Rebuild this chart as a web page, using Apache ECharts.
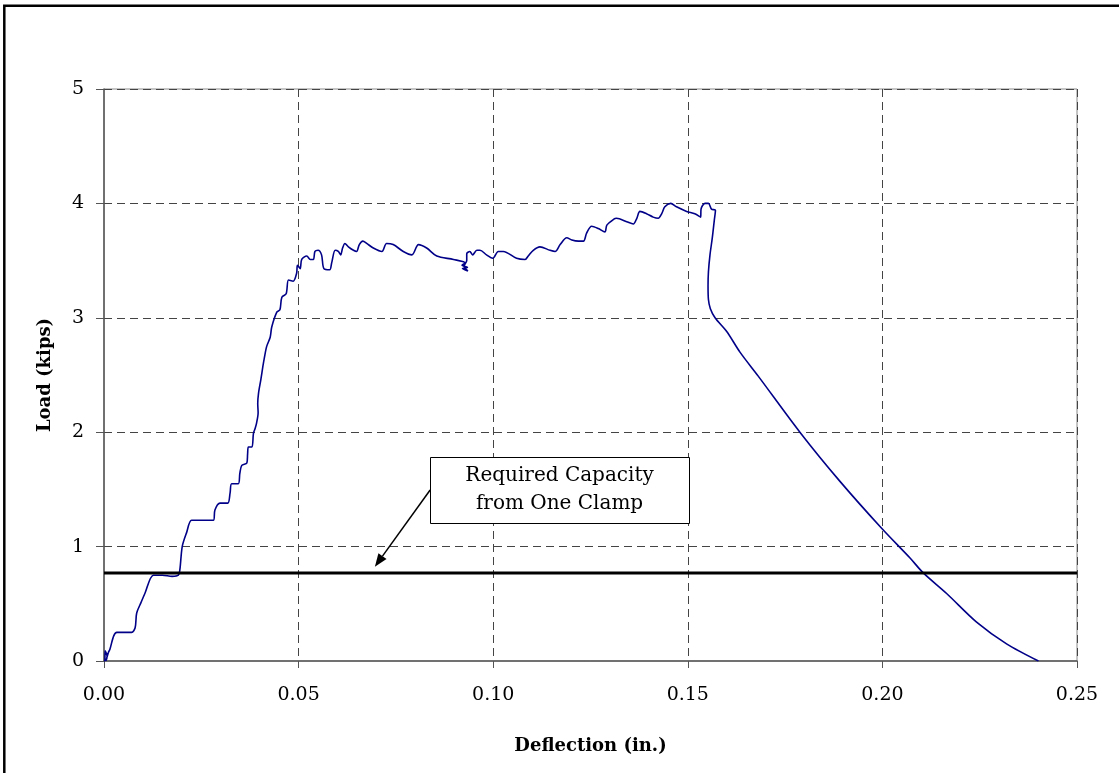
<!DOCTYPE html>
<html><head><meta charset="utf-8">
<script src="https://cdn.jsdelivr.net/npm/echarts@6/dist/echarts.min.js"></script>
<style>html,body{margin:0;padding:0;background:#fff}#c{width:1119px;height:773px}</style>
</head><body><div id="c"></div>
<script>
// Deflection (in.) and Load (kips)
const deflection = [0.0000,0.0002,0.0003,0.0008,0.0005,0.0012,0.0015,0.0025,0.0033,0.0050,0.0071,0.0080,0.0084,0.0095,0.0105,0.0127,0.0150,0.0175,0.0191,0.0195,0.0201,0.0212,0.0225,0.0250,0.0281,0.0285,0.0298,0.0318,0.0324,0.0328,0.0345,0.0349,0.0354,0.0367,0.0369,0.0371,0.0380,0.0384,0.0388,0.0392,0.0396,0.0395,0.0397,0.0403,0.0408,0.0412,0.0418,0.0427,0.0431,0.0444,0.0452,0.0457,0.0468,0.0474,0.0486,0.0495,0.0497,0.0504,0.0508,0.0521,0.0530,0.0538,0.0542,0.0550,0.0559,0.0565,0.0580,0.0585,0.0594,0.0602,0.0608,0.0613,0.0619,0.0628,0.0641,0.0649,0.0656,0.0665,0.0675,0.0692,0.0714,0.0726,0.0743,0.0769,0.0791,0.0808,0.0829,0.0855,0.0898,0.0928,0.0920,0.0934,0.0921,0.0935,0.0925,0.0932,0.0932,0.0940,0.0947,0.0958,0.0966,0.0983,0.0999,0.1013,0.1026,0.1060,0.1082,0.1090,0.1103,0.1120,0.1146,0.1159,0.1172,0.1189,0.1202,0.1219,0.1232,0.1240,0.1253,0.1270,0.1287,0.1292,0.1309,0.1317,0.1343,0.1360,0.1369,0.1377,0.1394,0.1411,0.1424,0.1433,0.1441,0.1456,0.1471,0.1497,0.1518,0.1533,0.1534,0.1544,0.1553,0.1561,0.1571,0.1568,0.1563,0.1557,0.1553,0.1552,0.1553,0.1558,0.1570,0.1600,0.1634,0.1681,0.1788,0.1891,0.1998,0.2071,0.2105,0.2165,0.2242,0.2319,0.2401];
const load = [0.00,0.00,0.09,0.04,0.00,0.08,0.10,0.22,0.25,0.25,0.25,0.29,0.42,0.51,0.59,0.75,0.75,0.74,0.75,0.80,1.00,1.12,1.23,1.23,1.23,1.32,1.38,1.38,1.47,1.55,1.55,1.64,1.71,1.73,1.81,1.87,1.87,1.99,2.03,2.08,2.17,2.25,2.34,2.46,2.57,2.65,2.75,2.83,2.92,3.05,3.07,3.18,3.21,3.33,3.32,3.39,3.46,3.43,3.51,3.54,3.51,3.51,3.58,3.59,3.55,3.43,3.42,3.48,3.59,3.58,3.55,3.61,3.65,3.62,3.59,3.58,3.64,3.67,3.65,3.61,3.58,3.65,3.64,3.58,3.55,3.64,3.61,3.54,3.51,3.48,3.46,3.44,3.43,3.41,3.45,3.50,3.56,3.58,3.55,3.59,3.59,3.55,3.52,3.58,3.58,3.52,3.51,3.54,3.59,3.62,3.59,3.58,3.64,3.70,3.68,3.67,3.67,3.74,3.80,3.78,3.75,3.81,3.86,3.87,3.84,3.82,3.87,3.93,3.91,3.88,3.87,3.91,3.97,4.00,3.97,3.93,3.91,3.88,3.95,4.00,4.00,3.95,3.94,3.85,3.70,3.55,3.40,3.28,3.16,3.08,3.00,2.88,2.70,2.49,2.00,1.57,1.16,0.90,0.77,0.59,0.34,0.15,0.00];
const xTicks = [0, 0.05, 0.10, 0.15, 0.20, 0.25];
const yTicks = [0, 1, 2, 3, 4, 5];
const requiredCapacity = 0.77;
const annotationLines = ['Required Capacity', 'from One Clamp'];
const xTitle = 'Deflection (in.)';
const yTitle = 'Load (kips)';

const curve = deflection.map((d, i) => [d, load[i]]);
const FONT = 'DejaVu Serif';
const chart = echarts.init(document.getElementById('c'), null, {renderer: 'canvas'});
chart.setOption({
  animation: false,
  backgroundColor: '#fff',
  grid: {left: 104, right: 42, top: 89, bottom: 112, show: true, borderColor: '#8a8a8a', borderWidth: 1, backgroundColor: 'transparent'},
  xAxis: {
    type: 'value', min: xTicks[0], max: xTicks[xTicks.length - 1], interval: 0.05,
    name: xTitle, nameLocation: 'middle', nameGap: 76,
    nameTextStyle: {fontFamily: FONT, fontWeight: 'bold', fontSize: 18, color: '#000'},
    axisLine: {show: true, onZero: false, lineStyle: {color: '#555', width: 1.5}},
    axisTick: {show: true, inside: false, length: 7, lineStyle: {color: '#555'}},
    axisLabel: {fontFamily: FONT, fontSize: 19, color: '#000', margin: 25, formatter: v => v.toFixed(2)},
    splitLine: {show: true, showMinLine: false, lineStyle: {color: '#444', type: [8, 5], width: 1}}
  },
  yAxis: {
    type: 'value', min: yTicks[0], max: yTicks[yTicks.length - 1], interval: 1,
    name: yTitle, nameLocation: 'middle', nameGap: 50,
    nameTextStyle: {fontFamily: FONT, fontWeight: 'bold', fontSize: 18, color: '#000'},
    axisLine: {show: true, onZero: false, lineStyle: {color: '#555', width: 1.5}},
    axisTick: {show: true, inside: false, length: 8, lineStyle: {color: '#555'}},
    axisLabel: {fontFamily: FONT, fontSize: 19, color: '#000', margin: 20},
    splitLine: {show: true, showMinLine: false, lineStyle: {color: '#444', type: [8, 5], width: 1}}
  },
  series: [
    {
      type: 'line', data: curve, showSymbol: false, symbol: 'none', smooth: 0.3,
      lineStyle: {color: '#000088', width: 1.6}, z: 3
    },
    {
      type: 'line', data: [[xTicks[0], requiredCapacity], [xTicks[xTicks.length - 1], requiredCapacity]],
      showSymbol: false, symbol: 'none', lineStyle: {color: '#000', width: 3}, z: 4
    }
  ]
});

const tl = chart.convertToPixel({gridIndex: 0}, [0.0838, 1.783]);
const br = chart.convertToPixel({gridIndex: 0}, [0.1503, 1.206]);
const a0 = chart.convertToPixel({gridIndex: 0}, [0.0838, 1.495]);
const a1 = chart.convertToPixel({gridIndex: 0}, [0.0696, 0.824]);
const ang = Math.atan2(a1[1] - a0[1], a1[0] - a0[0]);
const headLen = 13, headHalf = 5;
const back = [a1[0] - headLen * Math.cos(ang), a1[1] - headLen * Math.sin(ang)];
const px = -Math.sin(ang), py = Math.cos(ang);
chart.setOption({
  graphic: [
    {type: 'rect', z: 100, silent: true,
     shape: {x: 4.3, y: 5.8, width: 1300, height: 1000},
     style: {fill: 'none', stroke: '#000', lineWidth: 2.5}},
    {type: 'line', z: 50, silent: true,
     shape: {x1: a0[0], y1: a0[1], x2: back[0], y2: back[1]},
     style: {stroke: '#000', lineWidth: 1.5}},
    {type: 'polygon', z: 50, silent: true,
     shape: {points: [[a1[0], a1[1]], [back[0] + px * headHalf, back[1] + py * headHalf], [back[0] - px * headHalf, back[1] - py * headHalf]]},
     style: {fill: '#000'}},
    {type: 'rect', z: 50, silent: true,
     shape: {x: Math.round(tl[0]) + 0.5, y: Math.round(tl[1]) + 0.5, width: Math.round(br[0] - tl[0]), height: Math.round(br[1] - tl[1])},
     style: {fill: '#fff', stroke: '#000', lineWidth: 1}},
    {type: 'text', z: 51, silent: true,
     x: (tl[0] + br[0]) / 2, y: (tl[1] + br[1]) / 2,
     style: {text: annotationLines.join('\n'), fontFamily: FONT, fontSize: 20, lineHeight: 28, fill: '#000', align: 'center', verticalAlign: 'middle'}}
  ]
});
</script></body></html>
